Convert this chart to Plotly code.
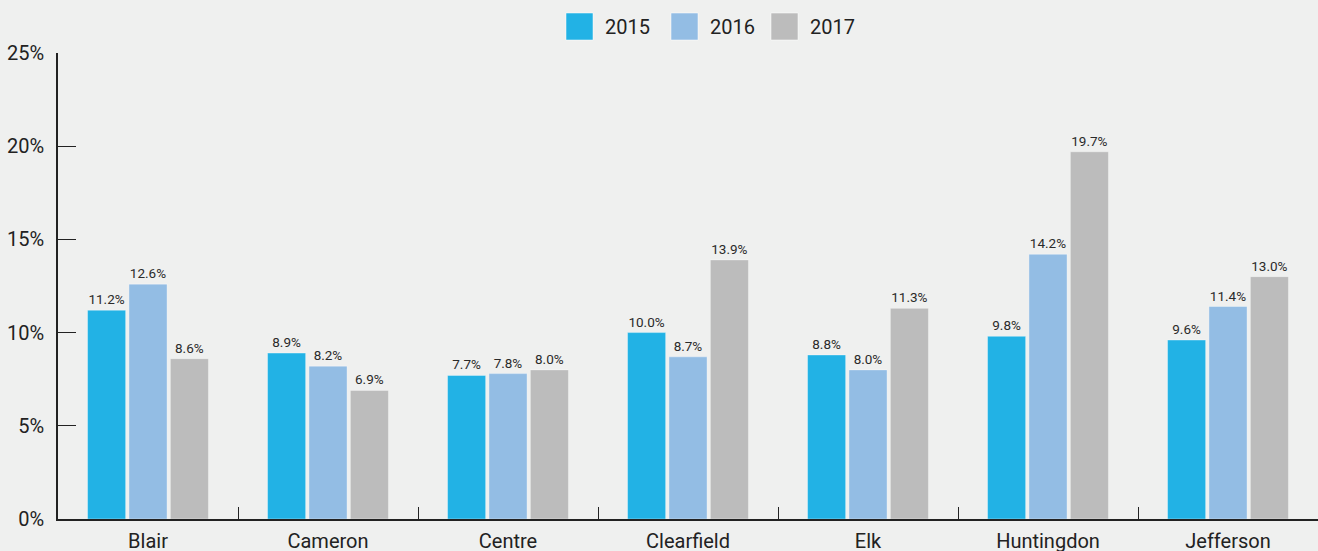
import plotly.graph_objects as go

counties = ["Blair", "Cameron", "Centre", "Clearfield", "Elk", "Huntingdon", "Jefferson"]
years = ["2015", "2016", "2017"]
v2015 = [11.2, 8.9, 7.7, 10.0, 8.8, 9.8, 9.6]
v2016 = [12.6, 8.2, 7.8, 8.7, 8.0, 14.2, 11.4]
v2017 = [8.6, 6.9, 8.0, 13.9, 11.3, 19.7, 13.0]
colors = ["#22b2e5", "#93bde4", "#bcbcbc"]

W, H = 1318, 551
ML, MR, MT, MB = 58, 0, 53, 32
PW, PH = W - ML - MR, H - MT - MB


def px_x(p):
    return (p - ML) / PW


def px_y(p):
    return (H - MB - p) / PH


fig = go.Figure()
for name, vals, c in zip(years, [v2015, v2016, v2017], colors):
    fig.add_trace(go.Bar(
        x=counties, y=vals, name=name, showlegend=False,
        marker=dict(color=c, line=dict(color="rgba(255,255,255,0.35)", width=1)),
        text=[f"{v:.1f}%" for v in vals], textposition="outside",
        textfont=dict(size=13.5, color="#2a2a2a", family="Roboto"),
        cliponaxis=False,
    ))

# legend drawn as shapes + annotations (large swatches)
legend_x = [566, 671, 771]
shapes, annots = [], []
for name, c, lx in zip(years, colors, legend_x):
    shapes.append(dict(type="rect", xref="paper", yref="paper",
                       x0=px_x(lx), x1=px_x(lx + 27), y0=px_y(40), y1=px_y(13),
                       fillcolor=c, line=dict(color="rgba(255,255,255,0.5)", width=1)))
    annots.append(dict(xref="paper", yref="paper", x=px_x(lx + 37), y=px_y(27),
                       xanchor="left", yanchor="middle", text=name, showarrow=False,
                       font=dict(size=20, color="#222222", family="Roboto")))

fig.update_layout(
    width=W, height=H,
    paper_bgcolor="#eff0ef", plot_bgcolor="#eff0ef",
    margin=dict(l=ML, r=MR, t=MT, b=MB, autoexpand=False),
    barmode="group", bargap=0.31, bargroupgap=0.08,
    font=dict(family="Roboto", color="#222222", size=20),
    showlegend=False,
    shapes=shapes, annotations=annots,
    xaxis=dict(showline=True, linecolor="#222222", linewidth=2, ticks="inside",
               tickson="boundaries", ticklen=12, tickcolor="#222222", tickwidth=1,
               showgrid=False, tickfont=dict(size=20), ticklabelstandoff=3),
    yaxis=dict(range=[0, 25], dtick=5, ticksuffix="%", showline=True, linecolor="#222222",
               linewidth=1.5, ticks="inside", ticklen=18, tickcolor="#222222", tickwidth=1,
               showgrid=False, zeroline=False, tickfont=dict(size=20), ticklabelstandoff=8),
)
fig.write_html("out.html", config={"displayModeBar": False},
               post_script="document.body.style.margin='0';")
